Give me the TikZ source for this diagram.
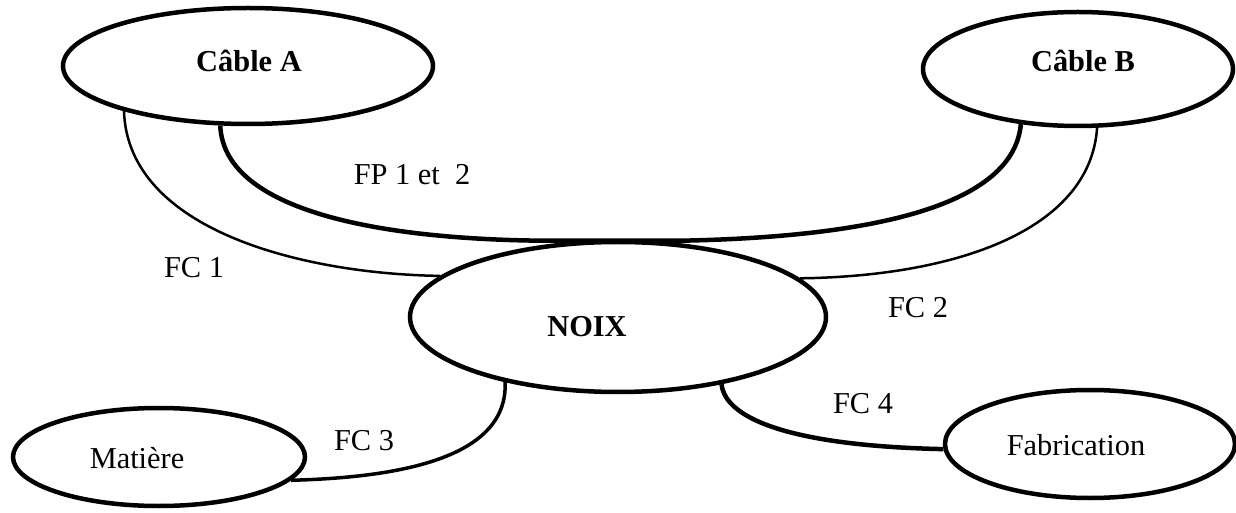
\documentclass[tikz,border=0pt]{standalone}
\usepackage{fontspec}
\setmainfont{Liberation Serif}
\usetikzlibrary{shapes.geometric,calc}
\begin{document}
\begin{tikzpicture}[x=1bp,y=-1bp,
  ell/.style={draw, line width=4.5bp, ellipse, inner sep=0pt},
  boldlbl/.style={font=\fontsize{30.5}{34}\selectfont\bfseries, anchor=base, inner sep=0pt},
  lbl/.style={font=\fontsize{30.5}{34}\selectfont, anchor=base, inner sep=0pt},
  wirethin/.style={line width=2.5bp},
  wiremid/.style={line width=3.5bp},
  wirethick/.style={line width=4.5bp}]
\useasboundingbox (0,0) rectangle (1236,513);
% ellipses
\node[ell, minimum width=370bp, minimum height=116bp] (ca) at (248,66) {};
\node[ell, minimum width=310bp, minimum height=114bp] (cb) at (1078,69) {};
\node[ell, minimum width=416bp, minimum height=150bp] (noix) at (618,317) {};
\node[ell, minimum width=292bp, minimum height=98bp] (mat) at (159,457) {};
\node[ell, minimum width=290bp, minimum height=108bp] (fab) at (1090,444) {};
% ellipse texts
\node[boldlbl] (tca) at (249,72) {Câble A};
\node[boldlbl] (tcb) at (1083,72) {Câble B};
\node[boldlbl] (tnoix) at (587,337) {NOIX};
\node[lbl] (tmat) at (137,468) {Matière};
\node[lbl] (tfab) at (1076,455) {Fabrication};
% connector labels
\node[lbl] (lfp) at (412,185) {FP 1 et\ \ 2};
\node[lbl] (lfc1) at (194,278) {FC 1};
\node[lbl] (lfc2) at (918,318) {FC 2};
\node[lbl] (lfc3) at (364,450) {FC 3};
\node[lbl] (lfc4) at (863,413) {FC 4};
% connectors
\draw[wirethick] (ca.-115) .. controls +(4,91) and +(-156,0) .. ($(noix.north)+(-62,1)$)
  -- ($(noix.north)+(60,1)$) .. controls +(172,-3) and +(-8,88) .. (cb.-136);
\draw[wirethin] (ca.-160) .. controls +(4,120) and +(-135,-2) .. (noix.167);
\draw[wirethin] (cb.-72) .. controls +(-7,102) and +(157,-2) .. (noix.12);
\draw[wiremid] (noix.-150) .. controls +(3,73) and +(117,-3) .. (mat.-10);
\draw[wirethick] (noix.-33) .. controls +(4,37) and +(-144,-3) .. (fab.-178);
\end{tikzpicture}
\end{document}
